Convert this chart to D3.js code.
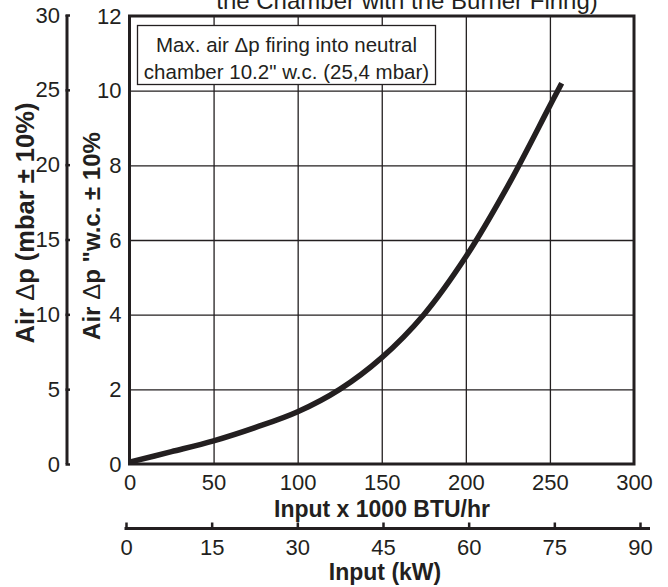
<!DOCTYPE html>
<html><head><meta charset="utf-8">
<script src="https://cdn.jsdelivr.net/npm/d3@7"></script>
<style>
html,body{margin:0;padding:0;background:#fff;}
svg{display:block;font-family:"Liberation Sans",Arial,Helvetica,sans-serif;}
</style></head>
<body>
<svg id="c" width="668" height="587"></svg>
<script>
// ---- data ----
const inputBTU = [0, 25, 50, 75, 100, 125, 150, 175, 200, 225, 250, 257];
const airDpWC  = [0.05, 0.33, 0.62, 0.98, 1.4, 2.0, 2.85, 4.0, 5.55, 7.45, 9.6, 10.2];
const btuTicks  = [0, 50, 100, 150, 200, 250, 300];
const wcTicks   = [0, 2, 4, 6, 8, 10, 12];
const mbarTicks = [0, 5, 10, 15, 20, 25, 30];
const kwTicks   = [0, 15, 30, 45, 60, 75, 90];
const titleText = "the Chamber with the Burner Firing)";
const noteLines = ["Max. air \u0394p firing into neutral", "chamber 10.2\" w.c. (25,4 mbar)"];

const ink = "#231f20";
const svg = d3.select("#c");

const x = d3.scaleLinear().domain([0, 300]).range([129.5, 634]);
const y = d3.scaleLinear().domain([0, 12]).range([464, 16]);
const yMbar = d3.scaleLinear().domain([0, 30]).range([464, 15]);
const xKw = d3.scaleLinear().domain([0, 90]).range([126, 640]);

// title (partially cut off at top, as in the reference)
svg.append("text").attr("x", 407).attr("y", 9)
  .attr("text-anchor", "middle").attr("font-size", 24).attr("fill", ink)
  .text(titleText);

// gridlines
const gx = svg.append("g").attr("transform", `translate(0,${y(0)})`)
  .call(d3.axisBottom(x).tickValues(btuTicks.slice(1, -1)).tickSize(-(y(0) - y(12))).tickFormat(""));
gx.select(".domain").remove();
gx.selectAll("line").attr("stroke", ink).attr("stroke-width", 1.3);

const gy = svg.append("g").attr("transform", `translate(${x(0)},0)`)
  .call(d3.axisLeft(y).tickValues(wcTicks.slice(1, -1)).tickSize(-(x(300) - x(0))).tickFormat(""));
gy.select(".domain").remove();
gy.selectAll("line").attr("stroke", ink).attr("stroke-width", 1.3);

// curve
const pts = inputBTU.map((b, i) => [b, airDpWC[i]]);
svg.append("path").datum(pts)
  .attr("fill", "none").attr("stroke", ink).attr("stroke-width", 5.5)
  .attr("stroke-linecap", "butt")
  .attr("d", d3.line().x(d => x(d[0])).y(d => y(d[1])).curve(d3.curveCatmullRom.alpha(0.5)));

// note box
const bx = 137.5, byy = 25.5, bw = 298, bh = 59;
svg.append("rect").attr("x", bx).attr("y", byy).attr("width", bw).attr("height", bh)
  .attr("fill", "#fff").attr("stroke", ink).attr("stroke-width", 1.3);
svg.append("text").attr("x", bx + bw / 2).attr("y", 52).attr("text-anchor", "middle")
  .attr("font-size", 20.5).attr("fill", ink).text(noteLines[0]);
svg.append("text").attr("x", bx + bw / 2).attr("y", 79).attr("text-anchor", "middle")
  .attr("font-size", 20.5).attr("fill", ink).text(noteLines[1]);

// frame
svg.append("rect").attr("x", x(0)).attr("y", y(12)).attr("width", x(300) - x(0)).attr("height", y(0) - y(12))
  .attr("fill", "none").attr("stroke", ink).attr("stroke-width", 3);

// BTU tick labels
const ax = svg.append("g").attr("transform", `translate(0,${y(0)})`)
  .call(d3.axisBottom(x).tickValues(btuTicks).tickSize(0).tickPadding(10).tickFormat(d3.format("d")));
ax.select(".domain").remove();
ax.selectAll("text").attr("font-size", 22).attr("fill", ink).attr("font-family", null).attr("dy", "0.71em");

// w.c. tick labels
const ay = svg.append("g").attr("transform", `translate(${x(0)},0)`)
  .call(d3.axisLeft(y).tickValues(wcTicks).tickSize(0).tickPadding(8).tickFormat(d3.format("d")));
ay.select(".domain").remove();
ay.selectAll("text").attr("font-size", 22).attr("fill", ink).attr("font-family", null);

// mbar axis
const am = svg.append("g").attr("transform", "translate(67,0)")
  .call(d3.axisRight(yMbar).tickValues(mbarTicks).tickSize(3).tickFormat(""));
am.select(".domain").attr("stroke", ink).attr("stroke-width", 3).attr("d", `M0,${yMbar(30)}V${yMbar(0)}`);
am.selectAll(".tick line").attr("stroke", ink).attr("stroke-width", 2.5).attr("x1", -1.5);
const amL = svg.append("g").attr("transform", "translate(67,0)")
  .call(d3.axisLeft(yMbar).tickValues(mbarTicks).tickSize(0).tickPadding(7).tickFormat(d3.format("d")));
amL.select(".domain").remove();
amL.selectAll("text").attr("font-size", 22).attr("fill", ink).attr("font-family", null);

// kW axis
const ak = svg.append("g").attr("transform", "translate(0,528.5)")
  .call(d3.axisTop(xKw).tickValues(kwTicks).tickSize(6).tickFormat(""));
ak.select(".domain").attr("stroke", ink).attr("stroke-width", 3).attr("d", `M${xKw(0) - 1.5},0H650`);
ak.selectAll(".tick line").attr("stroke", ink).attr("stroke-width", 2.5);
const akL = svg.append("g").attr("transform", "translate(0,528.5)")
  .call(d3.axisBottom(xKw).tickValues(kwTicks).tickSize(0).tickPadding(11).tickFormat(d3.format("d")));
akL.select(".domain").remove();
akL.selectAll("text").attr("font-size", 22).attr("fill", ink).attr("font-family", null).attr("dy", "0.71em");

// axis titles
function boldTitle(sel, parts) {
  parts.forEach(p => {
    sel.append("tspan").attr("font-weight", p.thin ? "normal" : "bold").text(p.t);
  });
}
const t1 = svg.append("text").attr("text-anchor", "middle").attr("font-size", 25.5).attr("fill", ink)
  .attr("transform", "translate(34,223) rotate(-90)");
boldTitle(t1, [{t: "Air "}, {t: "\u0394", thin: true}, {t: "p  (mbar \u00b1 10%)"}]);

const t2 = svg.append("text").attr("text-anchor", "middle").attr("font-size", 24).attr("fill", ink)
  .attr("transform", "translate(100,236) rotate(-90)");
boldTitle(t2, [{t: "Air "}, {t: "\u0394", thin: true}, {t: "p \"w.c. \u00b1 10%"}]);

svg.append("text").attr("x", 382).attr("y", 517).attr("text-anchor", "middle")
  .attr("font-size", 23).attr("font-weight", "bold").attr("fill", ink).text("Input x 1000 BTU/hr");
svg.append("text").attr("x", 385).attr("y", 580).attr("text-anchor", "middle")
  .attr("font-size", 23).attr("font-weight", "bold").attr("fill", ink).text("Input (kW)");
</script>
</body></html>
